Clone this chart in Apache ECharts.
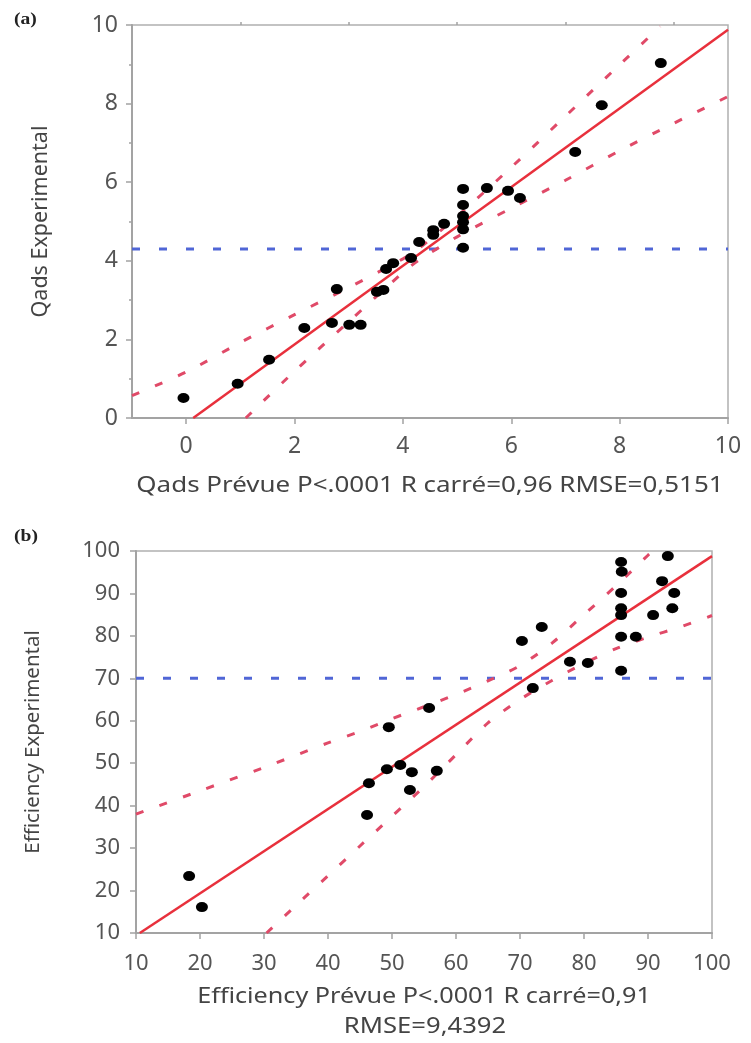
<!DOCTYPE html>
<html><head><meta charset="utf-8">
<script src="https://cdn.jsdelivr.net/npm/echarts@6/dist/echarts.min.js"></script>
<style>html,body{margin:0;padding:0;background:#fff}#c{width:751px;height:1043px}</style>
</head><body><div id="c"></div>
<script>
// ---------- Panel (a): Qads ----------
const qadsPred = [-0.05, 0.95, 1.53, 2.18, 2.69, 2.78, 3.01, 3.22, 3.52, 3.64, 3.69, 3.82, 4.15, 4.30, 4.56, 4.56, 4.76, 5.11, 5.11, 5.11, 5.11, 5.11, 5.11, 5.55, 5.94, 6.16, 7.18, 7.67, 8.76];
const qadsExp  = [0.51, 0.87, 1.48, 2.29, 2.42, 3.28, 2.37, 2.37, 3.21, 3.26, 3.79, 3.94, 4.07, 4.48, 4.66, 4.78, 4.94, 4.33, 4.80, 4.98, 5.14, 5.42, 5.83, 5.85, 5.78, 5.60, 6.77, 7.96, 9.03];
const qadsFitX = [0.13, 10];
const qadsFitY = [0, 9.88];
const qadsUpX = [-1, 0, 1, 2, 3, 4, 4.3, 5, 6, 7, 8, 8.75];
const qadsUpY = [0.57, 1.17, 1.92, 2.63, 3.32, 4.05, 4.32, 5.13, 6.38, 7.68, 8.99, 9.96];
const qadsLoX = [1.1, 2, 3, 4, 4.3, 5, 6, 7, 8, 9, 10];
const qadsLoY = [0, 1.19, 2.45, 3.70, 4.02, 4.61, 5.34, 6.05, 6.80, 7.50, 8.18];
const qadsMean = 4.3;
const qadsXLabels = [0, 2, 4, 6, 8, 10];
const qadsXMinor = [1, 3, 5, 7, 9];

// ---------- Panel (b): Efficiency ----------
const effPred = [18.3, 20.3, 46.1, 46.4, 49.2, 49.5, 51.3, 52.8, 53.1, 55.8, 57.0, 70.3, 72.0, 73.4, 77.8, 80.6, 85.8, 85.8, 85.8, 85.8, 85.8, 85.8, 85.9, 88.1, 90.8, 92.2, 93.1, 93.8, 94.1];
const effExp  = [23.4, 16.1, 37.8, 45.3, 48.6, 58.5, 49.6, 43.7, 47.9, 63.0, 48.2, 78.8, 67.7, 82.1, 73.9, 73.6, 71.8, 79.8, 84.9, 86.5, 90.1, 97.4, 95.1, 79.8, 84.9, 92.9, 98.8, 86.5, 90.1];
const effFitX = [10.6, 100];
const effFitY = [10, 98.8];
const effUpX = [10, 20, 30, 40, 45, 50, 55, 60, 65, 70, 75, 80, 85, 90, 90.8];
const effUpY = [38, 43.5, 49, 54.8, 57.5, 60.5, 63.3, 66.2, 69.4, 73, 78.3, 85, 91.8, 99, 100];
const effLoX = [30.4, 35, 40, 45, 50, 55, 60, 65, 70, 75, 80, 85, 90, 95, 100];
const effLoY = [10, 16.5, 23.5, 30.5, 37.5, 44.5, 52, 59.5, 65, 69.5, 73.5, 77, 79.7, 82.1, 84.8];
const effMean = 70;

const zip = (xs, ys) => xs.map((x, i) => [x, ys[i]]);

const FONT = '"Noto Sans", "Open Sans", sans-serif';
const AX = '#a3a3a3';
const TXT = '#555';
const RED = '#e8303c';
const RED_D = '#e04a68';
const BLUE = '#5066d6';
const DOT = [12, 10];

function valAxis(extra) {
  return Object.assign({
    type: 'value',
    axisLine: { show: true, onZero: false, lineStyle: { color: AX, width: 2 } },
    axisTick: { show: true, length: 6, lineStyle: { color: AX, width: 1.5 } },
    splitLine: { show: false },
  }, extra);
}

const option = {
  animation: false,
  backgroundColor: '#fff',
  grid: [
    { left: 132, top: 25, width: 596, height: 393, show: true, borderColor: '#b0b0b0', borderWidth: 1.5 },
    { left: 136, top: 551, width: 576, height: 382, show: true, borderColor: '#b0b0b0', borderWidth: 1.5 }
  ],
  xAxis: [
    valAxis({ gridIndex: 0, min: -1, max: 10, interval: 1,
      axisTick: { show: true, length: 6, customValues: qadsXLabels, lineStyle: { color: AX, width: 1.5 } },
      axisLabel: { customValues: qadsXLabels, color: TXT, fontSize: 23, fontFamily: FONT, margin: 17 } }),
    valAxis({ gridIndex: 0, min: -1, max: 10, interval: 1,
      axisLine: { show: false, onZero: false },
      axisTick: { show: true, length: 3, customValues: qadsXMinor, lineStyle: { color: AX, width: 1.5 } },
      axisLabel: { show: false } }),
    valAxis({ gridIndex: 1, min: 10, max: 100, interval: 10,
      axisLabel: { color: TXT, fontSize: 22, fontFamily: FONT, margin: 20 } })
  ],
  yAxis: [
    valAxis({ gridIndex: 0, min: 0, max: 10, interval: 2,
      minorTick: { show: true, splitNumber: 2, length: 3, lineStyle: { color: AX, width: 1.5 } },
      axisLabel: { color: TXT, fontSize: 23, fontFamily: FONT, margin: 14 },
      name: 'Qads Experimental', nameLocation: 'middle', nameGap: 80,
      nameTextStyle: { color: '#444', fontSize: 21.5, fontFamily: FONT } }),
    valAxis({ gridIndex: 1, min: 10, max: 100, interval: 10,
      axisLabel: { color: TXT, fontSize: 22, fontFamily: FONT, margin: 16 },
      name: 'Efficiency Experimental', nameLocation: 'middle', nameGap: 92,
      nameTextStyle: { color: '#444', fontSize: 20.5, fontFamily: FONT } })
  ],
  graphic: [
    { type: 'text', x: 14, y: 20, scaleX: 1.15, style: { text: '(a)', font: 'bold 17px "Liberation Serif", "DejaVu Serif", serif', fill: '#222', verticalAlign: 'middle' } },
    { type: 'text', x: 14, y: 537, scaleX: 1.15, style: { text: '(b)', font: 'bold 17px "Liberation Serif", "DejaVu Serif", serif', fill: '#222', verticalAlign: 'middle' } },
    { type: 'text', x: 430, y: 486, scaleX: 1.18, style: { text: 'Qads Prévue P<.0001 R carré=0,96 RMSE=0,5151', font: '22px ' + FONT, fill: '#444', align: 'center', verticalAlign: 'middle' } },
    { type: 'text', x: 424, y: 997, scaleX: 1.2, style: { text: 'Efficiency Prévue P<.0001 R carré=0,91', font: '21px ' + FONT, fill: '#444', align: 'center', verticalAlign: 'middle' } },
    { type: 'text', x: 425, y: 1027, scaleX: 1.22, style: { text: 'RMSE=9,4392', font: '21px ' + FONT, fill: '#444', align: 'center', verticalAlign: 'middle' } }
  ],
  series: [
    // Panel (a)
    { type: 'line', xAxisIndex: 0, yAxisIndex: 0, data: [[-1, qadsMean], [10, qadsMean]], symbol: 'none',
      lineStyle: { color: BLUE, width: 3, type: [8, 19] }, z: 2 },
    { type: 'line', xAxisIndex: 0, yAxisIndex: 0, data: zip(qadsUpX, qadsUpY), symbol: 'none', smooth: 0.3,
      lineStyle: { color: RED_D, width: 3, type: [8, 17] }, z: 3 },
    { type: 'line', xAxisIndex: 0, yAxisIndex: 0, data: zip(qadsLoX, qadsLoY), symbol: 'none', smooth: 0.3,
      lineStyle: { color: RED_D, width: 3, type: [8, 17] }, z: 3 },
    { type: 'line', xAxisIndex: 0, yAxisIndex: 0, data: zip(qadsFitX, qadsFitY), symbol: 'none',
      lineStyle: { color: RED, width: 2.5 }, z: 4 },
    { type: 'scatter', xAxisIndex: 0, yAxisIndex: 0, data: zip(qadsPred, qadsExp), symbolSize: DOT,
      itemStyle: { color: '#000', opacity: 1 }, z: 5 },
    // Panel (b)
    { type: 'line', xAxisIndex: 2, yAxisIndex: 1, data: [[10, effMean], [100, effMean]], symbol: 'none',
      lineStyle: { color: BLUE, width: 3, type: [8, 19] }, z: 2 },
    { type: 'line', xAxisIndex: 2, yAxisIndex: 1, data: zip(effUpX, effUpY), symbol: 'none', smooth: 0.3,
      lineStyle: { color: RED_D, width: 3, type: [8, 17] }, z: 3 },
    { type: 'line', xAxisIndex: 2, yAxisIndex: 1, data: zip(effLoX, effLoY), symbol: 'none', smooth: 0.3,
      lineStyle: { color: RED_D, width: 3, type: [8, 17] }, z: 3 },
    { type: 'line', xAxisIndex: 2, yAxisIndex: 1, data: zip(effFitX, effFitY), symbol: 'none',
      lineStyle: { color: RED, width: 2.5 }, z: 4 },
    { type: 'scatter', xAxisIndex: 2, yAxisIndex: 1, data: zip(effPred, effExp), symbolSize: DOT,
      itemStyle: { color: '#000', opacity: 1 }, z: 5 }
  ]
};

const chart = echarts.init(document.getElementById('c'), null, { renderer: 'canvas' });
chart.setOption(option);
</script>
</body></html>
